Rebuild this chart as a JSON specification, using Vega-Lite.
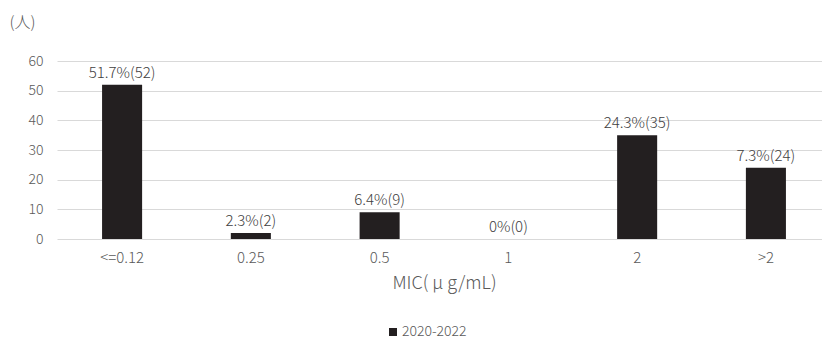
{
  "$schema": "https://vega.github.io/schema/vega-lite/v6.json",
  "autosize": "none",
  "width": 765,
  "height": 178,
  "padding": {"left": 57, "top": 61, "right": 0, "bottom": 102},
  "background": "white",
  "config": {
    "font": "Noto Sans CJK JP",
    "view": {"stroke": null}
  },
  "data": {
    "values": [
      {"mic": "<=0.12", "count": 52, "label": "51.7%(52)", "period": "2020-2022"},
      {"mic": "0.25", "count": 2, "label": "2.3%(2)", "period": "2020-2022"},
      {"mic": "0.5", "count": 9, "label": "6.4%(9)", "period": "2020-2022"},
      {"mic": "1", "count": 0, "label": "0%(0)", "period": "2020-2022"},
      {"mic": "2", "count": 35, "label": "24.3%(35)", "period": "2020-2022"},
      {"mic": ">2", "count": 24, "label": "7.3%(24)", "period": "2020-2022"}
    ]
  },
  "encoding": {
    "x": {
      "field": "mic",
      "type": "nominal",
      "sort": null,
      "scale": {"range": [0, 774], "paddingInner": 0.689, "paddingOuter": 0.35},
      "axis": {
        "title": "MIC( μ g/mL)",
        "labelAngle": 0,
        "labelFontSize": 15,
        "labelFontWeight": 300,
        "labelColor": "#595959",
        "labelPadding": 11,
        "domain": false,
        "ticks": false,
        "titleFontSize": 18,
        "titleFontWeight": 300,
        "titleColor": "#595959",
        "titlePadding": 9
      }
    },
    "y": {
      "field": "count",
      "type": "quantitative",
      "scale": {"domain": [0, 60]},
      "axis": {
        "values": [0, 10, 20, 30, 40, 50, 60],
        "title": "(人)",
        "titleAngle": 0,
        "titleAlign": "left",
        "titleBaseline": "middle",
        "titleX": -48,
        "titleY": -39,
        "titleFontSize": 16,
        "titleFontWeight": 300,
        "titleColor": "#595959",
        "labelFontSize": 14,
        "labelFontWeight": 300,
        "labelColor": "#595959",
        "labelPadding": 14,
        "domain": false,
        "ticks": false,
        "gridColor": "#d9d9d9",
        "gridWidth": 1.2
      }
    }
  },
  "layer": [
    {
      "mark": {"type": "bar"},
      "encoding": {
        "color": {
          "field": "period",
          "type": "nominal",
          "scale": {"range": ["#231f20"]},
          "legend": {
            "title": null,
            "orient": "none",
            "legendX": 329,
            "legendY": 264,
            "symbolType": "square",
            "symbolSize": 64,
            "labelFontSize": 14,
            "labelFontWeight": 300,
            "labelColor": "#595959",
            "labelOffset": 2
          }
        }
      }
    },
    {
      "mark": {"type": "text", "baseline": "bottom", "dy": -4, "fontSize": 15, "fontWeight": 300, "color": "#404040"},
      "encoding": {
        "text": {"field": "label"}
      }
    }
  ]
}
